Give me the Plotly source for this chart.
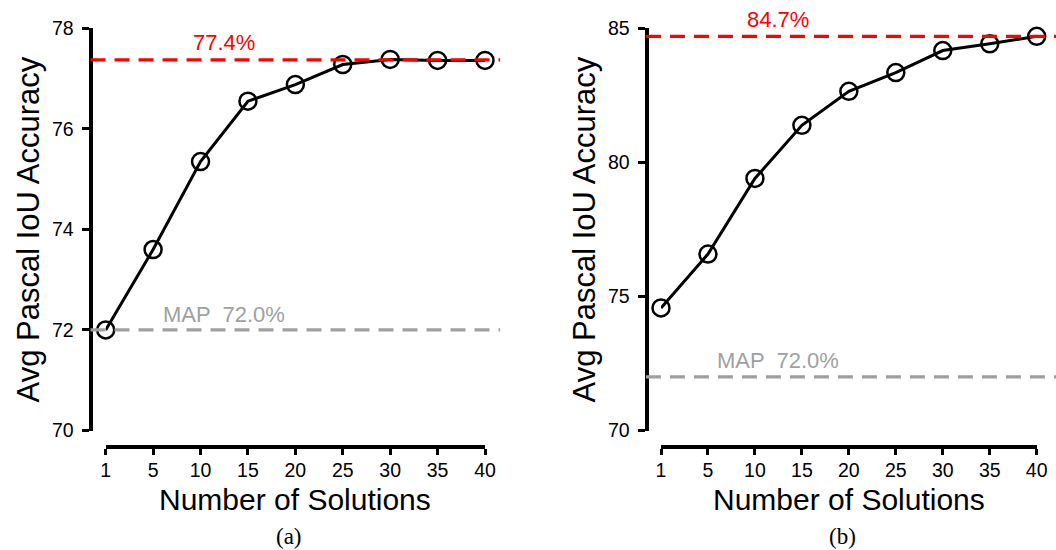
import plotly.graph_objects as go

# ---- data ----
solutions = ["1", "5", "10", "15", "20", "25", "30", "35", "40"]
acc_a = [72.0, 73.6, 75.35, 76.55, 76.88, 77.28, 77.38, 77.36, 77.36]
acc_b = [74.57, 76.58, 79.4, 81.38, 82.65, 83.35, 84.17, 84.42, 84.7]
best_a = 77.37
best_b = 84.7
map_val = 72.0
best_a_label = "77.4%"
best_b_label = "84.7%"
map_label = "MAP \u00a072.0%"
yticks_a = [70, 72, 74, 76, 78]
yticks_b = [70, 75, 80, 85]
captions = ["(a)", "(b)"]
x_title = "Number of Solutions"
y_title = "Avg Pascal IoU Accuracy"

W, H = 1056, 550
SANS = "Liberation Sans, Arial, sans-serif"
SERIF = "Liberation Serif, Times New Roman, serif"


def px_x(p):
    return p / W


def px_y(p):
    return 1 - p / H


fig = go.Figure()

panels = [
    dict(xa="x", ya="y", data=acc_a, best=best_a, blabel=best_a_label,
         yr=[70, 78], yt=yticks_a, ydom=[px_y(430.5), px_y(28.3)],
         xdom=[px_x(105.7), px_x(485)], ypos=px_x(90.5), cap=captions[0],
         capx=288.5, ytx=28, ext=[-0.04, 1.04], bshift=3, mshift=1),
    dict(xa="x2", ya="y2", data=acc_b, best=best_b, blabel=best_b_label,
         yr=[70, 85], yt=yticks_b, ydom=[px_y(430.5), px_y(28.3)],
         xdom=[px_x(661), px_x(1036.7)], ypos=px_x(646.5), cap=captions[1],
         capx=842, ytx=584, ext=[-0.04, 1.06], bshift=2, mshift=2),
]

layout = dict(
    width=W, height=H,
    margin=dict(l=0, r=0, t=0, b=0),
    paper_bgcolor="white", plot_bgcolor="white",
    showlegend=False,
    font=dict(family=SANS, color="black"),
    shapes=[], annotations=[],
)

for i, p in enumerate(panels):
    fig.add_trace(go.Scatter(
        x=solutions, y=p["data"], xaxis=p["xa"], yaxis=p["ya"],
        mode="lines+markers",
        line=dict(color="black", width=3),
        marker=dict(symbol="circle-open", size=17, color="black",
                    line=dict(width=2.5, color="black")),
        cliponaxis=False,
    ))
    suffix = "" if i == 0 else "2"
    layout["xaxis" + suffix] = dict(
        type="category", domain=p["xdom"], range=[0, 8],
        anchor="free", position=px_y(447.3),
        showline=True, linecolor="black", linewidth=4,
        ticks="outside", ticklen=6, tickwidth=3, tickcolor="black",
        tickfont=dict(size=19.5, family=SANS, color="black"),
        ticklabelstandoff=-2,
        showgrid=False, zeroline=False,
        automargin=False,
    )
    layout["yaxis" + suffix] = dict(
        domain=p["ydom"], range=p["yr"], tickvals=p["yt"],
        anchor="free", position=p["ypos"],
        showline=True, linecolor="black", linewidth=4,
        ticks="outside", ticklen=7, tickwidth=3, tickcolor="black",
        tickfont=dict(size=19.5, family=SANS, color="black"),
        ticklabelstandoff=4,
        showgrid=False, zeroline=False,
        automargin=False,
    )
    xd = p["xa"] + " domain"
    yd = p["ya"] + " domain"
    layout["shapes"].append(dict(
        type="line", xref=xd, yref=p["ya"], x0=p["ext"][0], x1=p["ext"][1],
        y0=p["best"], y1=p["best"], layer="above",
        line=dict(color="#ff0000", width=3.2, dash="15px,9px")))
    layout["shapes"].append(dict(
        type="line", xref=xd, yref=p["ya"], x0=p["ext"][0], x1=p["ext"][1],
        y0=map_val, y1=map_val, layer="above",
        line=dict(color="#a0a0a0", width=3.2, dash="15px,9px")))
    layout["annotations"].append(dict(
        x=2.5, y=p["best"], xref=p["xa"], yref=p["ya"], text=p["blabel"],
        showarrow=False, yanchor="bottom", yshift=p["bshift"],
        font=dict(size=22, color="#ff0000", family=SANS)))
    layout["annotations"].append(dict(
        x=2.5, y=map_val, xref=p["xa"], yref=p["ya"], text=map_label,
        showarrow=False, yanchor="bottom", yshift=p["mshift"],
        font=dict(size=22, color="#a0a0a0", family=SANS)))
    # axis titles
    layout["annotations"].append(dict(
        x=0.5, y=px_y(499.5), xref=xd, yref="paper", text=x_title,
        showarrow=False, xanchor="center", yanchor="middle", borderpad=0,
        font=dict(size=30, color="black", family=SANS)))
    layout["annotations"].append(dict(
        x=px_x(p["ytx"]), y=0.5, xref="paper", yref=yd, text=y_title,
        textangle=-90, showarrow=False, xanchor="center", yanchor="middle",
        font=dict(size=31, color="black", family=SANS)))
    # captions
    layout["annotations"].append(dict(
        x=px_x(p["capx"]), y=0, xref="paper", yref="paper",
        text=p["cap"], showarrow=False, xanchor="center", yanchor="bottom",
        borderpad=0, font=dict(size=23, color="black", family=SERIF)))

fig.update_layout(**layout)
fig.write_html("out.html")
